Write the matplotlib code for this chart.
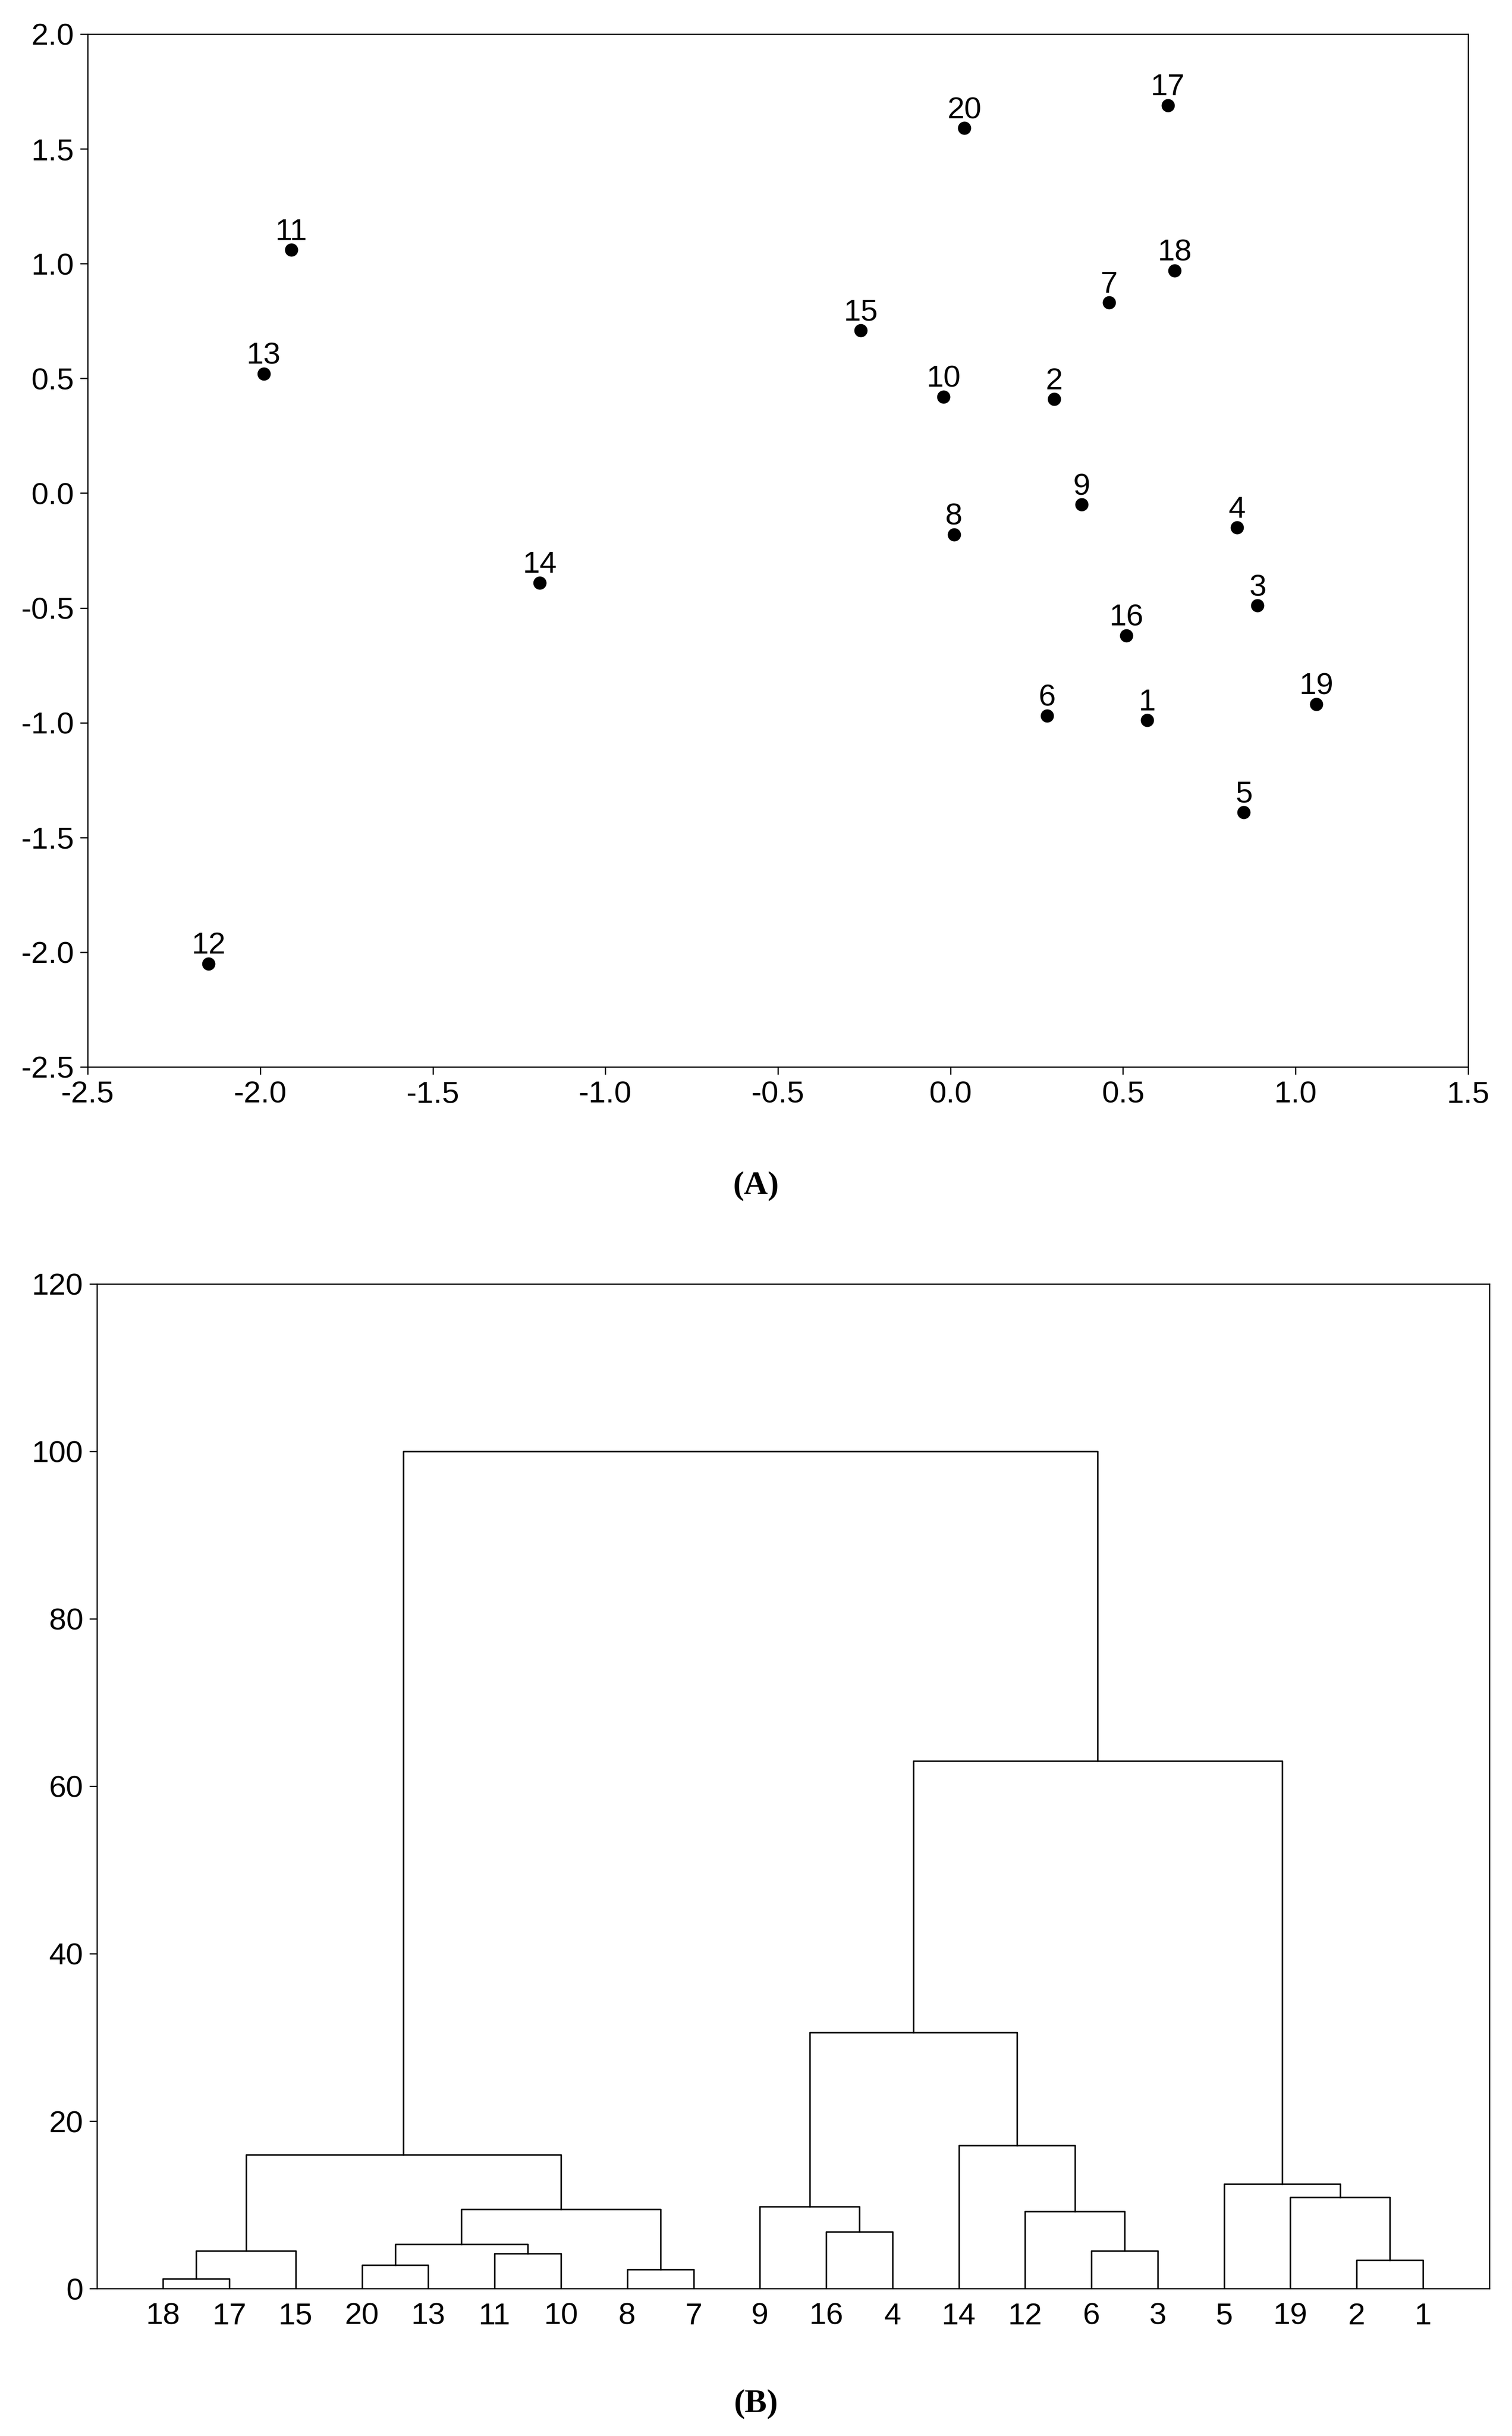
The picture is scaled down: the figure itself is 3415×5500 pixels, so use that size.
import matplotlib
matplotlib.use("Agg")
import matplotlib.pyplot as plt

# Panel A data
labels = [str(i) for i in range(1, 21)]
xs = [0.57, 0.30, 0.89, 0.83, 0.85, 0.28, 0.46, 0.01, 0.38, -0.02,
      -1.91, -2.15, -1.99, -1.19, -0.26, 0.51, 0.63, 0.65, 1.06, 0.04]
ys = [-0.99, 0.41, -0.49, -0.15, -1.39, -0.97, 0.83, -0.18, -0.05, 0.42,
      1.06, -2.05, 0.52, -0.39, 0.71, -0.62, 1.69, 0.97, -0.92, 1.59]

# Panel B data
leaf_order = ['18', '17', '15', '20', '13', '11', '10', '8', '7', '9',
              '16', '4', '14', '12', '6', '3', '5', '19', '2', '1']
merge_name = ['c1', 'c2', 'c3', 'c4', 'c5', 'c6', 'c7', 'c8', 'c9', 'c10', 'c11',
              'c12', 'c13', 'c14', 'c15', 'c16', 'c17', 'c18', 'c19']
merge_a = ['18', 'c1', '20', '11', 'c3', '8', 'c5', 'c2', '16', '9', '6', '12', '14', 'c10', '2', '19', '5', 'c14', 'c8']
merge_b = ['17', '15', '13', '10', 'c4', '7', 'c6', 'c7', '4', 'c9', '3', 'c11', 'c12', 'c13', '1', 'c15', 'c16', 'c17', 'c18']
merge_h = [1.2, 4.5, 2.8, 4.2, 5.3, 2.3, 9.5, 16.0, 6.8, 9.8, 4.5, 9.2, 17.1, 30.6, 3.4, 10.9, 12.5, 63.0, 100.0]

plt.rcParams['font.family'] = ['Liberation Sans', 'DejaVu Sans']
fig = plt.figure(figsize=(34.15, 55), dpi=100)
FS = 50

ax1 = fig.add_axes([0.058, 0.562, 0.913, 0.424])
ax1.scatter(xs, ys, s=420, color='black', zorder=3)
for x, y, t in zip(xs, ys, labels):
    ax1.annotate(t, (x, y), xytext=(0, 6), textcoords='offset points',
                 ha='center', va='bottom', fontsize=FS)
ax1.set_xlim(-2.5, 1.5)
ax1.set_ylim(-2.5, 2.0)
ax1.set_xticks([-2.5 + 0.5 * i for i in range(9)])
ax1.set_yticks([-2.5 + 0.5 * i for i in range(10)])
ax1.xaxis.set_major_formatter(matplotlib.ticker.FormatStrFormatter('%.1f'))
ax1.yaxis.set_major_formatter(matplotlib.ticker.FormatStrFormatter('%.1f'))
ax1.tick_params(labelsize=FS, length=12, width=2, direction='out', top=False, right=False, pad=10)
for s in ax1.spines.values():
    s.set_linewidth(2)
fig.text(0.5, 0.513, '(A)', ha='center', va='center', fontsize=54,
         fontweight='bold', family='Liberation Serif')

ax2 = fig.add_axes([0.064, 0.0605, 0.921, 0.4125])
pos = {lab: i + 1 for i, lab in enumerate(leaf_order)}
hgt = {lab: 0.0 for lab in leaf_order}
for name, a, b, h in zip(merge_name, merge_a, merge_b, merge_h):
    xa, xb = pos[a], pos[b]
    ax2.plot([xa, xa, xb, xb], [hgt[a], h, h, hgt[b]], color='black', lw=2.5)
    pos[name] = (xa + xb) / 2
    hgt[name] = h
ax2.set_xlim(0, 21)
ax2.set_ylim(0, 120)
ax2.set_xticks(range(1, 21))
ax2.set_xticklabels(leaf_order)
ax2.set_yticks(range(0, 121, 20))
ax2.tick_params(axis='x', length=0, pad=22, labelsize=FS)
ax2.tick_params(axis='y', length=12, width=2, direction='out', labelsize=FS, pad=10)
for s in ax2.spines.values():
    s.set_linewidth(2)
fig.text(0.5, 0.013, '(B)', ha='center', va='center', fontsize=54,
         fontweight='bold', family='Liberation Serif')

fig.savefig('out.png', dpi=100, facecolor='white')
